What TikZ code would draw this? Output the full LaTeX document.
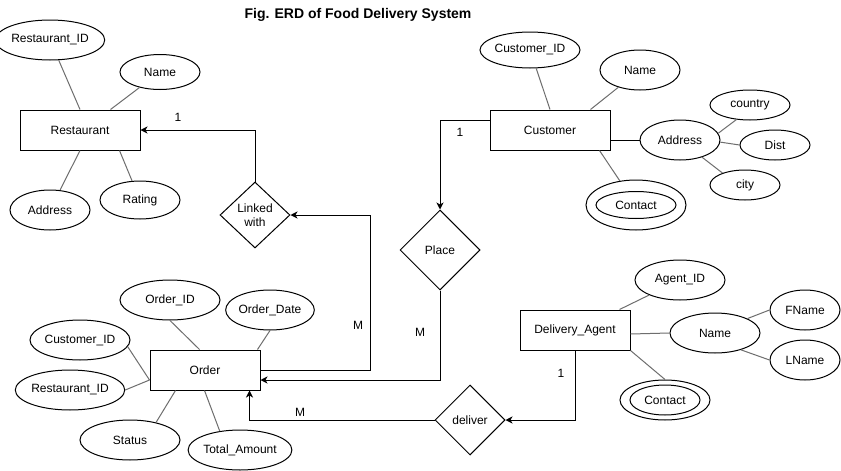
\documentclass[tikz,border=0pt]{standalone}
\usepackage{fontspec}
\setmainfont{Liberation Sans}
\usetikzlibrary{shapes.geometric,arrows.meta}
\definecolor{attrgray}{RGB}{110,110,110}
\tikzset{
  base/.style={font=\fontsize{12}{14}\selectfont, inner sep=0pt, line width=1pt, draw=black},
  entity/.style={base, rectangle, minimum width=120pt, minimum height=40pt},
  attr/.style={base, ellipse, minimum width=#1, minimum height=40pt},
  attr/.default=80pt,
  rel/.style={base, diamond, minimum width=80pt, minimum height=80pt, align=center},
  aline/.style={draw=attrgray, line width=1pt},
  rline/.style={draw=black, line width=1pt},
  arr/.style={rline, -{Stealth[length=7pt,width=7pt,inset=2pt]}},
  card/.style={font=\fontsize{12}{14}\selectfont, inner sep=0pt}
}
\begin{document}
\begin{tikzpicture}[x=1pt,y=-1pt]
\useasboundingbox (0,0) rectangle (841,471);
\fill[white] (0,0) rectangle (841,471);

\node[font=\fontsize{14}{16}\selectfont\bfseries, inner sep=0pt] (title) at (358,15) {Fig. ERD of Food Delivery System};

% Restaurant
\node[entity] (rest) at (80,130) {Restaurant};
\node[attr=100pt] (rid) at (50,40) {Restaurant\_ID};
\node[attr, minimum height=35pt] (rname) at (160,72) {Name};
\node[attr] (raddr) at (50,210) {Address};
\node[attr, minimum height=38pt] (rrate) at (140,200) {Rating};
\draw[aline] (rid) -- (rest.north);
\draw[aline] (rname) -- ([xshift=91pt]rest.north west);
\draw[aline] (raddr) -- (rest.south);
\draw[aline] (rrate) -- ([xshift=100pt]rest.south west);

% Customer
\node[entity] (cust) at (550,130) {Customer};
\node[attr=100pt, minimum height=36pt] (cid) at (530,50) {Customer\_ID};
\node[attr] (cname) at (640,70) {Name};
\node[attr] (caddr) at (680,140) {Address};
\node[attr, minimum height=30pt] (ccountry) at (750,105) {country};
\node[attr=70pt, minimum height=30pt] (cdist) at (775,145) {Dist};
\node[attr=70pt, minimum height=30pt] (ccity) at (745,185) {city};
\node[attr=100pt, minimum height=50pt] (ccontout) at (636,205) {};
\node[attr, minimum height=27pt] (ccont) at (636,205) {Contact};
\draw[aline] (cid) -- (cust.north);
\draw[aline] (cname) -- ([xshift=101pt]cust.north west);
\draw[rline] ([yshift=-10pt]cust.east) -- (caddr);
\draw[aline] (caddr.10) -- (ccountry.227);
\draw[aline] (caddr.-3) -- (cdist.west);
\draw[aline] (caddr.-38) -- (ccity.152);
\draw[aline] ([xshift=110pt]cust.south west) -- (ccontout);

% Order
\node[entity, minimum width=110pt] (ord) at (205,370) {Order};
\node[attr=100pt] (oid) at (170,300) {Order\_ID};
\node[attr] (odate) at (270,310) {Order\_Date};
\node[attr=100pt] (ocid) at (80,340) {Customer\_ID};
\node[attr=100pt] (orid) at (70,390) {Restaurant\_ID};
\node[attr=100pt] (ostat) at (130,440) {Status};
\node[attr=100pt] (otot) at (240,450) {Total\_Amount};
\draw[aline] (oid.south) -- ([xshift=50pt]ord.north west);
\draw[aline] (odate.south) -- ([xshift=108pt]ord.north west);
\draw[aline] (ocid.-8) -- ([yshift=-10pt]ord.west);
\draw[aline] (orid.east) -- ([yshift=-10pt]ord.west);
\draw[aline] (ostat.34) -- ([xshift=26pt]ord.south west);
\draw[aline] (otot.137) -- ([xshift=55pt]ord.south west);

% Delivery agent
\node[entity, minimum width=110pt] (da) at (575,330) {Delivery\_Agent};
\node[attr=90pt] (aid) at (680,280) {Agent\_ID};
\node[attr=90pt] (dname) at (715,333) {Name};
\node[attr=70pt] (fname) at (805,310) {FName};
\node[attr=70pt] (lname) at (805,360) {LName};
\node[attr=90pt] (dcontout) at (665,400) {};
\node[attr=70pt, minimum height=30pt] (dcont) at (665,400) {Contact};
\draw[aline] (aid) -- ([xshift=100pt]da.north west);
\draw[aline] ([yshift=-4pt]da.east) -- (dname.west);
\draw[aline] (dname.24) -- (fname.west);
\draw[aline] (dname.-33) -- (lname.west);
\draw[aline] (da.south east) -- (dcontout.north);

% Relationships
\node[rel, minimum width=70pt, minimum height=66pt] (linked) at (255,215) {Linked\\with};
\node[rel] (place) at (440,250) {Place};
\node[rel, minimum width=70pt, minimum height=70pt] (deliver) at (470,420) {deliver};

\draw[arr] (linked.north) |- (rest.east);
\draw[arr] (ord.east) -- ++(110,0) |- (linked.east);
\draw[arr] ([yshift=10pt]cust.west) -| (place.north);
\draw[arr] (place.south) |- ([yshift=-10pt]ord.east);
\draw[arr] (deliver.west) -| ([xshift=100pt]ord.south west);
\draw[arr] ([xshift=56pt]da.south west) |- (deliver.east);

% Cardinalities
\node[card] (c1) at (178,117) {1};
\node[card] (c2) at (460,132) {1};
\node[card] (c3) at (358,325) {M};
\node[card] (c4) at (420,332) {M};
\node[card] (c5) at (300,412) {M};
\node[card] (c6) at (561,373) {1};
\end{tikzpicture}
\end{document}
